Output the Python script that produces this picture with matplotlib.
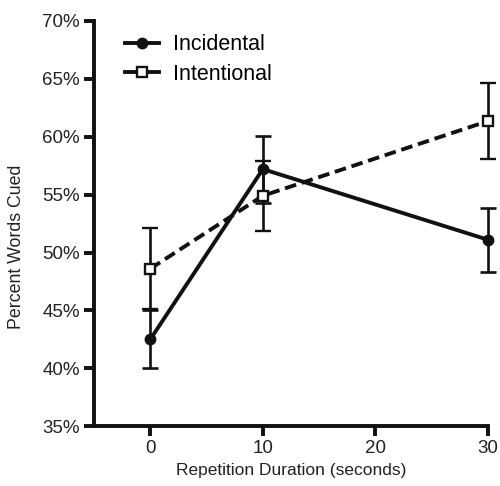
import matplotlib.pyplot as plt
from matplotlib.lines import Line2D
from matplotlib.ticker import FuncFormatter

plt.rcParams['font.family'] = ['Liberation Sans', 'DejaVu Sans']

durations = [0, 10, 30]
incidental = [42.5, 57.2, 51.1]
incidental_err = [2.5, 2.9, 2.75]
intentional = [48.6, 54.9, 61.35]
intentional_err = [3.5, 3.0, 3.3]

fig = plt.figure(figsize=(5, 4.86), dpi=100)
ax = fig.add_axes([0.188, 0.123, 0.788, 0.834])

ink = '#111111'
dash = (0, (3.0, 1.5))

eb1 = ax.errorbar(durations, incidental, yerr=incidental_err, color=ink,
                  lw=2.8, marker='o', ms=7.5, mfc=ink, mec=ink,
                  elinewidth=1.9, capsize=5.5, capthick=1.9, zorder=3)
eb2 = ax.errorbar(durations, intentional, yerr=intentional_err, color=ink,
                  lw=2.8, ls=dash, marker='s', ms=7.5, mfc='white', mec=ink,
                  mew=1.7, elinewidth=1.9, capsize=5.5, capthick=1.9, zorder=3)
# keep the markers at x=30 from being cut off by the axes edge
for eb in (eb1, eb2):
    eb[0].set_clip_on(False)
    for c in eb[1]:
        c.set_clip_on(False)
    for c in eb[2]:
        c.set_clip_on(False)

ax.set_xlim(-5, 30)
ax.set_ylim(35, 70)
ax.set_xticks([0, 10, 20, 30])
ax.set_yticks([35, 40, 45, 50, 55, 60, 65, 70])
ax.yaxis.set_major_formatter(FuncFormatter(lambda v, p: f'{v:.0f}%'))

for s in ['top', 'right']:
    ax.spines[s].set_visible(False)
for s in ['left', 'bottom']:
    ax.spines[s].set_linewidth(2.8)
    ax.spines[s].set_color(ink)
ax.tick_params(direction='out', length=7, width=2.8, color=ink,
               labelsize=13.5, labelcolor='#222222')
ax.tick_params(axis='x', pad=3)
ax.tick_params(axis='y', pad=3)

ax.set_xlabel('Repetition Duration (seconds)', fontsize=12.5, color='#222222', labelpad=4)
ax.set_ylabel('Percent Words Cued', fontsize=12.8, color='#222222')
ax.yaxis.set_label_coords(-0.175, 0.442)

handles = [
    Line2D([], [], color=ink, lw=2.8, marker='o', ms=7.5, mfc=ink, mec=ink),
    Line2D([], [], color=ink, lw=2.8, marker='s', ms=7.5, mfc='white', mec=ink, mew=1.7),
]
ax.legend(handles, ['Incidental', 'Intentional'], loc='upper left',
          bbox_to_anchor=(0.03, 1.015), frameon=False, fontsize=15.5,
          handlelength=1.55, handletextpad=0.65, labelspacing=0.4)

fig.savefig('out.png', dpi=100)
